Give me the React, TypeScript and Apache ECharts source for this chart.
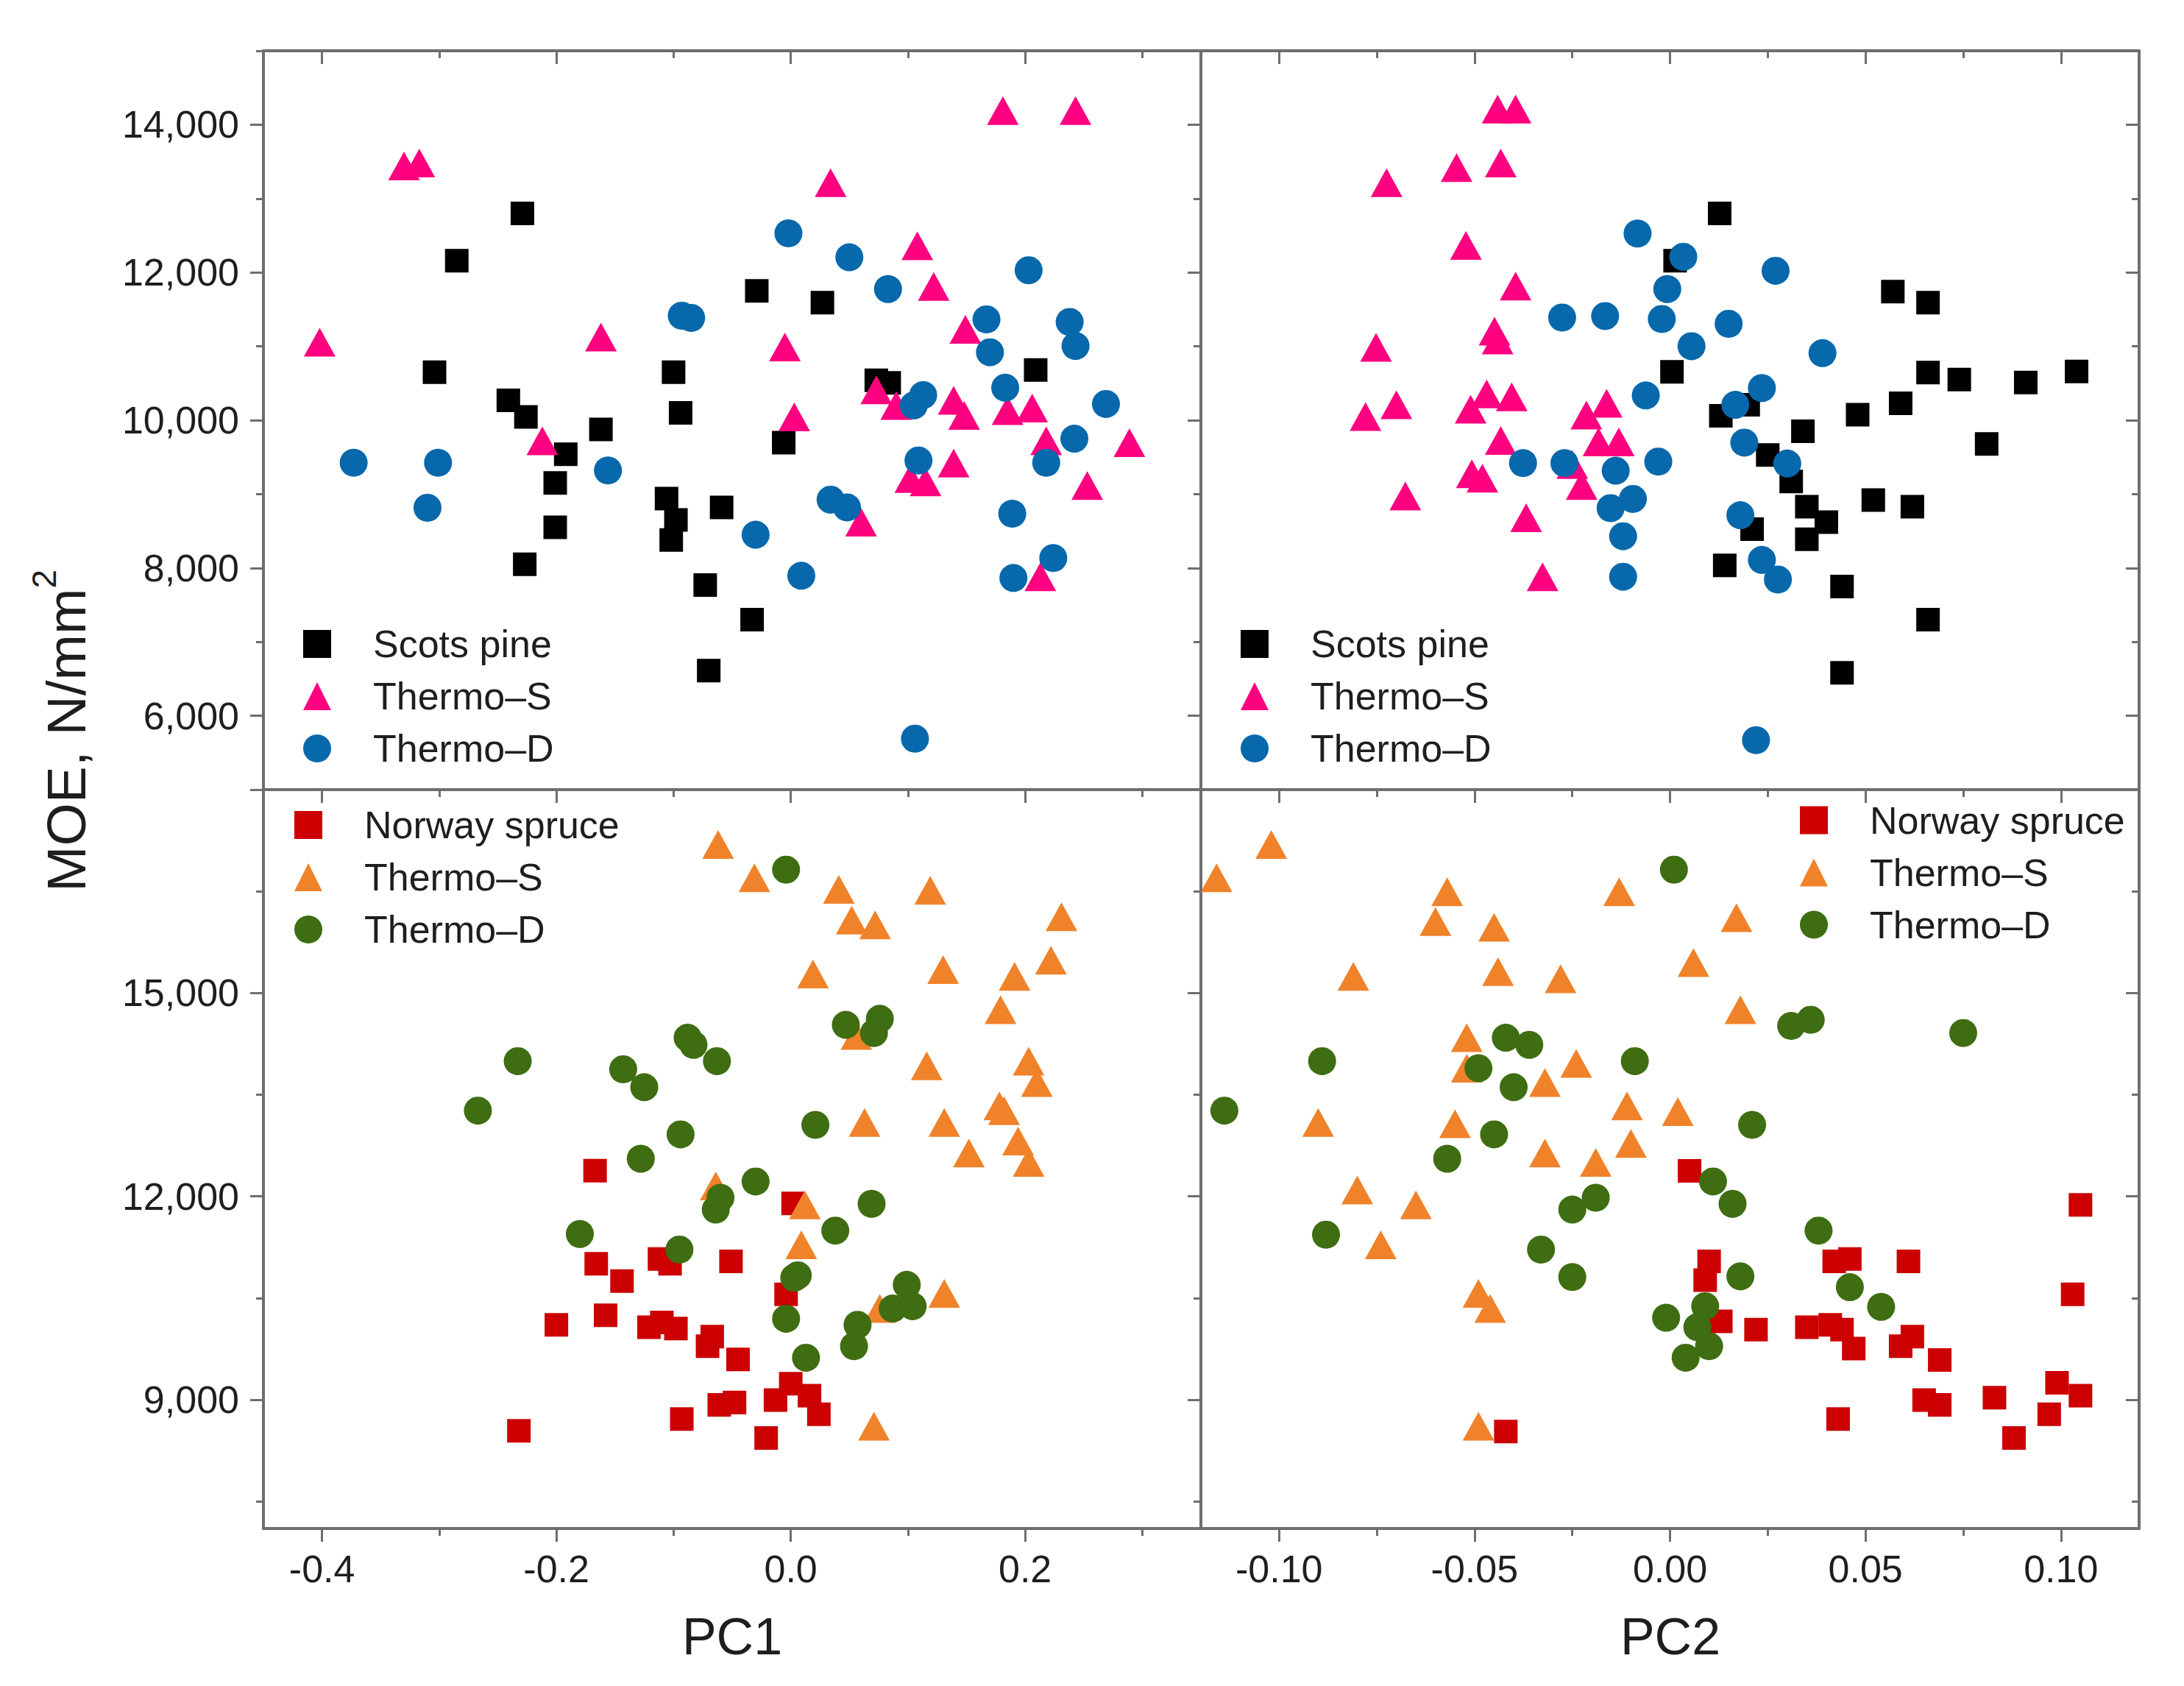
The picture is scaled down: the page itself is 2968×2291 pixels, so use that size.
import React, { useRef, useEffect } from "react"
import * as echarts from "echarts"

// axis ranges and tick positions
const pc1Range = [-0.45, 0.35]
const pc1Major = [-0.4, -0.2, 0, 0.2]
const pc1Minor = [-0.3, -0.1, 0.1, 0.3]
const pc2Range = [-0.12, 0.12]
const pc2Major = [-0.1, -0.05, 0, 0.05, 0.1]
const pc2Minor = [-0.075, -0.025, 0.025, 0.075]
const pineRange = [5000, 15000]
const pineMajor = [6000, 8000, 10000, 12000, 14000]
const pineMinor = [5000, 7000, 9000, 11000, 13000, 15000]
const spruceRange = [7100, 18000]
const spruceMajor = [9000, 12000, 15000, 18000]
const spruceLabels = [9000, 12000, 15000]
const spruceMinor = [7500, 10500, 13500, 16500]

// top left: Scots pine, PC1 vs MOE
const pinePC1 = [
  [-0.229, 12800], [-0.285, 12160], [-0.304, 10650], [-0.241, 10270], [-0.226, 10045],
  [-0.094, 10100], [-0.1, 10650], [-0.162, 9875], [-0.192, 9540], [-0.201, 9150],
  [-0.201, 8550], [-0.227, 8050], [-0.106, 8940], [-0.098, 8650], [-0.102, 8380],
  [-0.059, 8820], [-0.073, 7770], [-0.033, 7300], [-0.07, 6610], [-0.029, 11750],
  [0.027, 11590], [-0.006, 9695], [0.073, 10540], [0.084, 10505], [0.209, 10680],
]
const pineThermoSPC1 = [
  [-0.33, 13440], [-0.317, 13480], [-0.402, 11055], [-0.162, 11125], [-0.212, 9720],
  [0.181, 14190], [0.243, 14190], [0.034, 13215], [0.108, 12360], [0.122, 11810],
  [0.149, 11230], [-0.005, 10990], [0.073, 10410], [0.09, 10200], [0.139, 10270],
  [0.148, 10065], [0.185, 10130], [0.206, 10165], [0.003, 10045], [0.218, 9720],
  [0.289, 9695], [0.139, 9420], [0.102, 9210], [0.115, 9165], [0.253, 9115],
  [0.06, 8620], [0.213, 7880],
]
const pineThermoDPC1 = [
  [-0.093, 11415], [-0.085, 11385], [-0.002, 12530], [0.05, 12205], [0.203, 12030],
  [0.083, 11775], [0.167, 11365], [0.238, 11330], [0.243, 11005], [0.17, 10920],
  [0.183, 10440], [0.105, 10200], [0.113, 10340], [0.269, 10220], [0.242, 9750],
  [-0.373, 9425], [-0.301, 9425], [-0.156, 9320], [-0.31, 8815], [-0.03, 8450],
  [0.009, 7895], [0.034, 8925], [0.048, 8820], [0.109, 9455], [0.189, 8735],
  [0.19, 7865], [0.224, 8135], [0.218, 9425], [0.106, 5690],
]

// top right: Scots pine, PC2 vs MOE
const pinePC2 = [
  [0.0127, 12800], [0.0013, 12160], [0.0005, 10655], [0.013, 10060], [0.02, 10210],
  [0.025, 9530], [0.031, 9170], [0.034, 9850], [0.035, 8830], [0.04, 8620],
  [0.035, 8390], [0.021, 8525], [0.014, 8035], [0.044, 7750], [0.044, 6580],
  [0.048, 10075], [0.052, 8920], [0.057, 11740], [0.059, 10230], [0.062, 8830],
  [0.066, 11590], [0.066, 10645], [0.066, 7300], [0.074, 10550], [0.081, 9680],
  [0.091, 10510], [0.104, 10660],
]
const pineThermoSPC2 = [
  [-0.0441, 14210], [-0.0395, 14210], [-0.0725, 13215], [-0.0546, 13420], [-0.0433, 13480],
  [-0.0522, 12365], [-0.0395, 11815], [-0.0449, 11205], [-0.0441, 11085], [-0.0752, 10985],
  [-0.0779, 10050], [-0.07, 10210], [-0.051, 10150], [-0.0469, 10355], [-0.0405, 10315],
  [-0.0214, 10070], [-0.0162, 10230], [-0.0433, 9725], [-0.0183, 9705], [-0.0131, 9705],
  [-0.0507, 9275], [-0.048, 9215], [-0.0226, 9115], [-0.025, 9400], [-0.0677, 8975],
  [-0.0368, 8680], [-0.0326, 7880],
]
const pineThermoDPC2 = [
  [-0.0083, 12527], [0.0034, 12212], [-0.0007, 11775], [-0.0276, 11390], [-0.0166, 11410],
  [-0.0021, 11370], [-0.0062, 10335], [-0.0376, 9420], [-0.027, 9420], [-0.0139, 9317],
  [-0.003, 9440], [-0.0152, 8810], [-0.0095, 8935], [0.027, 12023], [0.0055, 11002],
  [0.015, 11305], [0.039, 10908], [0.0167, 10208], [0.0235, 10435], [0.03, 9414],
  [0.019, 9697], [0.018, 8714], [0.0235, 8109], [0.0276, 7844], [0.022, 5670],
  [-0.012, 8430], [-0.012, 7882],
]

// bottom left: Norway spruce, PC1 vs MOE
const sprucePC1 = [
  [-0.167, 12380], [-0.166, 11005], [-0.144, 10750], [-0.112, 11075], [-0.103, 11005],
  [-0.051, 11040], [0.002, 11895], [-0.004, 10555], [-0.2, 10105], [-0.158, 10245],
  [-0.121, 10070], [-0.11, 10140], [-0.098, 10050], [-0.067, 9930], [-0.071, 9790],
  [-0.045, 9595], [0.0, 9235], [-0.013, 8995], [0.016, 9060], [0.024, 8785],
  [-0.061, 8925], [-0.048, 8960], [-0.093, 8715], [-0.232, 8540], [-0.021, 8435],
  [-0.028, 7050],
]
const spruceThermoSPC1 = [
  [-0.062, 17190], [-0.031, 16700], [0.041, 16530], [0.119, 16515], [0.052, 16075],
  [0.072, 16005], [0.231, 16125], [0.019, 15280], [0.13, 15345], [0.191, 15245],
  [0.222, 15485], [0.179, 14755], [0.056, 14375], [0.116, 13925], [0.203, 13995],
  [0.21, 13680], [0.178, 13335], [0.182, 13265], [0.063, 13090], [0.131, 13090],
  [0.152, 12640], [0.194, 12815], [0.203, 12500], [-0.064, 12155], [0.012, 11875],
  [0.009, 11285], [0.076, 10345], [0.131, 10570], [0.071, 8610],
]
const spruceThermoDPC1 = [
  [-0.004, 16820], [-0.233, 13995], [-0.143, 13875], [-0.125, 13610], [-0.088, 14340],
  [-0.083, 14235], [-0.063, 13995], [-0.267, 13265], [-0.094, 12915], [-0.128, 12555],
  [0.047, 14530], [0.076, 14620], [0.071, 14410], [0.021, 13055], [-0.03, 12220],
  [-0.06, 11980], [-0.064, 11805], [-0.18, 11445], [-0.095, 11215], [0.069, 11890],
  [0.038, 11495], [0.003, 10800], [0.006, 10835], [-0.004, 10195], [0.099, 10695],
  [0.087, 10345], [0.104, 10380], [0.057, 10105], [0.054, 9790], [0.013, 9620],
]

// bottom right: Norway spruce, PC2 vs MOE
const sprucePC2 = [
  [0.005, 12375], [0.105, 11875], [0.01, 11040], [0.009, 10765], [0.042, 11040],
  [0.046, 11075], [0.061, 11040], [0.103, 10555], [0.013, 10155], [0.022, 10035],
  [0.035, 10070], [0.041, 10105], [0.044, 10035], [0.047, 9755], [0.059, 9790],
  [0.062, 9930], [0.069, 9585], [0.065, 8995], [0.069, 8925], [0.083, 9030],
  [0.099, 9250], [0.105, 9060], [0.097, 8785], [0.088, 8435], [0.043, 8715],
  [-0.042, 8530], [0.054, 7050],
]
const spruceThermoSPC2 = [
  [-0.102, 17190], [-0.116, 16700], [-0.057, 16495], [-0.013, 16495], [-0.06, 16055],
  [-0.045, 15970], [0.017, 16110], [-0.081, 15245], [-0.044, 15315], [-0.028, 15210],
  [0.006, 15450], [0.018, 14755], [-0.052, 14340], [-0.052, 13890], [-0.024, 13960],
  [-0.032, 13680], [-0.011, 13335], [0.002, 13250], [-0.09, 13090], [-0.055, 13070],
  [-0.01, 12780], [-0.032, 12640], [-0.019, 12500], [-0.08, 12095], [-0.065, 11875],
  [-0.074, 11285], [-0.049, 10570], [-0.046, 10345], [-0.049, 8610],
]
const spruceThermoDPC2 = [
  [0.001, 16820], [-0.089, 13995], [-0.114, 13265], [-0.042, 14340], [-0.036, 14235],
  [-0.049, 13890], [-0.04, 13610], [-0.009, 13995], [-0.045, 12915], [-0.057, 12555],
  [0.031, 14515], [0.036, 14605], [0.075, 14410], [0.021, 13055], [0.011, 12220],
  [0.016, 11890], [-0.019, 11980], [-0.025, 11805], [-0.088, 11435], [-0.033, 11215],
  [0.038, 11495], [-0.025, 10810], [0.018, 10820], [0.046, 10660], [0.054, 10370],
  [-0.001, 10210], [0.009, 10380], [0.007, 10070], [0.01, 9790], [0.004, 9620],
]

const AXIS_COLOR = "#6e6e6e"
const TEXT_COLOR = "#1e1e1e"
const FONT = "'Liberation Sans', Arial, Helvetica, sans-serif"

const C_PINE = "#000000"
const C_PINE_S = "#FF0080"
const C_PINE_D = "#0868AC"
const C_SPRUCE = "#CC0000"
const C_SPRUCE_S = "#F0822A"
const C_SPRUCE_D = "#3F6D12"

const fmtPC1 = (v: number) => v.toFixed(1)
const fmtPC2 = (v: number) => v.toFixed(2)
const fmtMOE = (v: number) => v.toLocaleString("en-US")

// four axes per dimension per grid: main side (major + minor) and mirrored side (major + minor)
function makeAxes(
  dim: "x" | "y",
  gridIndex: number,
  range: number[],
  major: number[],
  minor: number[],
  labels: number[] | null,
  fmt: (v: number) => string
) {
  const sides = dim === "x" ? ["bottom", "top"] : ["left", "right"]
  const out: any[] = []
  sides.forEach((position, s) => {
    const inside = s === 1
    const common = {
      type: "value",
      gridIndex,
      position,
      min: range[0],
      max: range[1],
      splitLine: { show: false },
      silent: true,
    }
    out.push({
      ...common,
      axisLine: { show: true, onZero: false, lineStyle: { color: AXIS_COLOR, width: 4 } },
      axisTick: {
        show: true,
        inside,
        customValues: major,
        length: 18,
        lineStyle: { color: AXIS_COLOR, width: 3 },
      },
      axisLabel:
        labels && !inside
          ? {
              show: true,
              customValues: labels,
              formatter: fmt,
              margin: dim === "x" ? 29 : 33,
              fontSize: 52,
              fontFamily: FONT,
              color: TEXT_COLOR,
            }
          : { show: false },
    })
    out.push({
      ...common,
      axisLine: { show: false, onZero: false },
      axisTick: {
        show: true,
        inside,
        customValues: minor,
        length: 10,
        lineStyle: { color: AXIS_COLOR, width: 3 },
      },
      axisLabel: { show: false },
    })
  })
  return out
}

function scatter(name: string, symbol: string, size: any, color: string, gridIndex: number, data: number[][]) {
  return {
    name,
    type: "scatter",
    xAxisIndex: gridIndex * 4,
    yAxisIndex: gridIndex * 4,
    symbol,
    symbolSize: size,
    itemStyle: { color, opacity: 1 },
    emphasis: { disabled: true },
    silent: true,
    data,
  }
}

function legendAt(left: number, top: number, items: { name: string; icon: string; color: string }[]) {
  return {
    left,
    top,
    orient: "vertical",
    itemWidth: 38,
    itemHeight: 38,
    itemGap: 0,
    padding: 0,
    selectedMode: false,
    textStyle: {
      fontSize: 52,
      fontFamily: FONT,
      color: TEXT_COLOR,
      lineHeight: 71,
      padding: [0, 0, 0, 52],
    },
    data: items.map((it) => ({ name: it.name, icon: it.icon, itemStyle: { color: it.color } })),
  }
}

const SQ = 32
const TRI = [43, 39]
const CIR = 38

export default function App() {
  const chartRef = useRef<HTMLDivElement>(null)

  useEffect(() => {
    if (!chartRef.current) return
    document.body.style.margin = "0"
    document.body.style.overflow = "hidden"

    const chart = echarts.init(chartRef.current, null, { renderer: "svg" })

    const grids = [
      { left: 358, top: 69, width: 1274, height: 1004 },
      { left: 1632, top: 69, width: 1275, height: 1004 },
      { left: 358, top: 1073, width: 1274, height: 1004 },
      { left: 1632, top: 1073, width: 1275, height: 1004 },
    ]

    const xAxis = [
      ...makeAxes("x", 0, pc1Range, pc1Major, pc1Minor, null, fmtPC1),
      ...makeAxes("x", 1, pc2Range, pc2Major, pc2Minor, null, fmtPC2),
      ...makeAxes("x", 2, pc1Range, pc1Major, pc1Minor, pc1Major, fmtPC1),
      ...makeAxes("x", 3, pc2Range, pc2Major, pc2Minor, pc2Major, fmtPC2),
    ]
    const yAxis = [
      ...makeAxes("y", 0, pineRange, pineMajor, pineMinor, pineMajor, fmtMOE),
      ...makeAxes("y", 1, pineRange, pineMajor, pineMinor, null, fmtMOE),
      ...makeAxes("y", 2, spruceRange, spruceMajor, spruceMinor, spruceLabels, fmtMOE),
      ...makeAxes("y", 3, spruceRange, spruceMajor, spruceMinor, null, fmtMOE),
    ]

    const series = [
      scatter("Scots pine", "rect", SQ, C_PINE, 0, pinePC1),
      scatter("Thermo–S", "triangle", TRI, C_PINE_S, 0, pineThermoSPC1),
      scatter("Thermo–D", "circle", CIR, C_PINE_D, 0, pineThermoDPC1),
      scatter("Scots pine", "rect", SQ, C_PINE, 1, pinePC2),
      scatter("Thermo–S", "triangle", TRI, C_PINE_S, 1, pineThermoSPC2),
      scatter("Thermo–D", "circle", CIR, C_PINE_D, 1, pineThermoDPC2),
      scatter("Norway spruce", "rect", SQ, C_SPRUCE, 2, sprucePC1),
      scatter("Thermo–S", "triangle", TRI, C_SPRUCE_S, 2, spruceThermoSPC1),
      scatter("Thermo–D", "circle", CIR, C_SPRUCE_D, 2, spruceThermoDPC1),
      scatter("Norway spruce", "rect", SQ, C_SPRUCE, 3, sprucePC2),
      scatter("Thermo–S", "triangle", TRI, C_SPRUCE_S, 3, spruceThermoSPC2),
      scatter("Thermo–D", "circle", CIR, C_SPRUCE_D, 3, spruceThermoDPC2),
    ]

    const pineItems = [
      { name: "Scots pine", icon: "rect", color: C_PINE },
      { name: "Thermo–S", icon: "triangle", color: C_PINE_S },
      { name: "Thermo–D", icon: "circle", color: C_PINE_D },
    ]
    const spruceItems = [
      { name: "Norway spruce", icon: "rect", color: C_SPRUCE },
      { name: "Thermo–S", icon: "triangle", color: C_SPRUCE_S },
      { name: "Thermo–D", icon: "circle", color: C_SPRUCE_D },
    ]

    const option = {
      animation: false,
      backgroundColor: "#ffffff",
      grid: grids,
      xAxis,
      yAxis,
      series,
      legend: [
        legendAt(412, 839.5, pineItems),
        legendAt(1686, 839.5, pineItems),
        legendAt(400, 1085.5, spruceItems),
        legendAt(2446, 1079, spruceItems),
      ],
      graphic: [
        {
          type: "text",
          x: 995,
          y: 2224,
          silent: true,
          style: {
            text: "PC1",
            fontSize: 70,
            fontFamily: FONT,
            fill: TEXT_COLOR,
            align: "center",
            verticalAlign: "middle",
          },
        },
        {
          type: "text",
          x: 2270,
          y: 2224,
          silent: true,
          style: {
            text: "PC2",
            fontSize: 70,
            fontFamily: FONT,
            fill: TEXT_COLOR,
            align: "center",
            verticalAlign: "middle",
          },
        },
        {
          type: "text",
          x: 90,
          y: 993,
          rotation: Math.PI / 2,
          silent: true,
          style: {
            text: "{m|MOE, N/mm}{s|2}",
            fill: TEXT_COLOR,
            align: "center",
            verticalAlign: "middle",
            rich: {
              m: { fontSize: 75, fontFamily: FONT, fill: TEXT_COLOR, lineHeight: 106 },
              s: { fontSize: 46, fontFamily: FONT, fill: TEXT_COLOR, lineHeight: 46, verticalAlign: "top" },
            },
          },
        },
      ],
    }

    chart.setOption(option as any)

    return () => {
      chart.dispose()
    }
  }, [])

  return <div ref={chartRef} style={{ width: 2968, height: 2291 }} />
}
